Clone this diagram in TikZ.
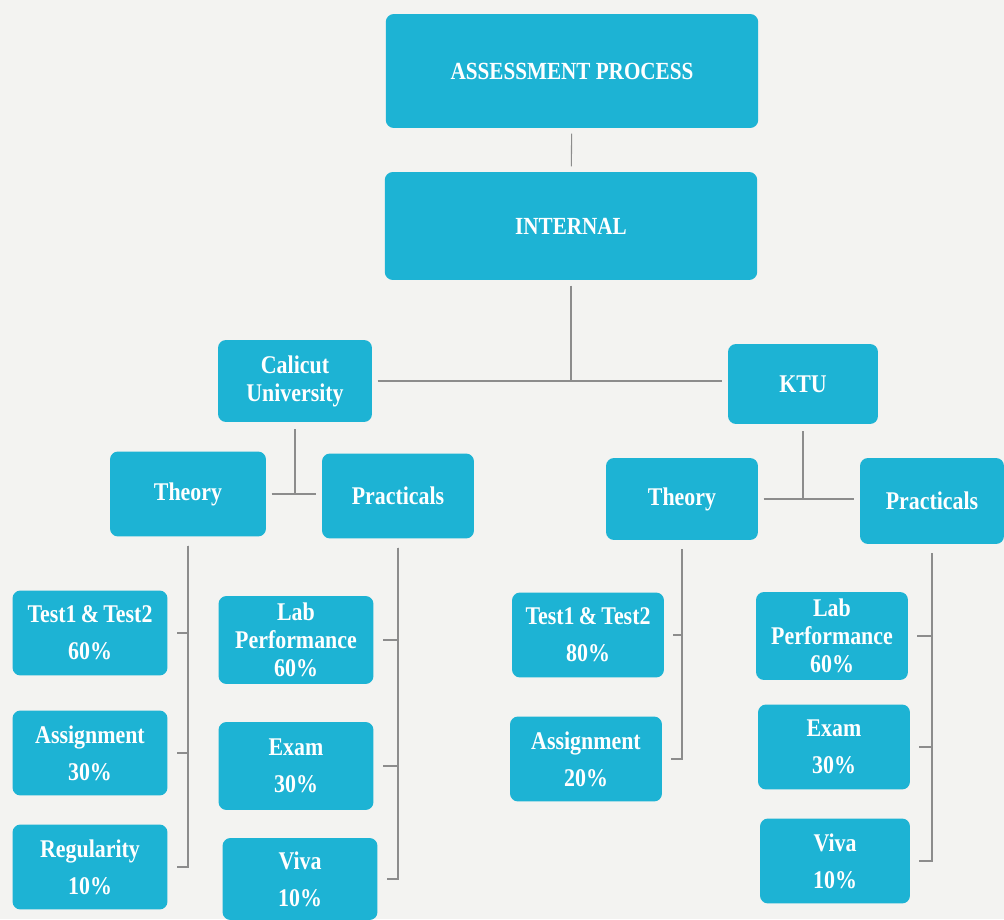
\documentclass[tikz,border=0pt]{standalone}
\usepackage{fontspec}
\setmainfont{Liberation Serif}
\newfontfamily\boxfont{Liberation Serif}[FakeStretch=0.86]
\usepackage{xcolor}
\usepackage{tikz}

\definecolor{boxcyan}{HTML}{1DB3D4}
\definecolor{paper}{HTML}{F3F3F1}
\definecolor{wire}{HTML}{8C8C8C}

\begin{document}
\begin{tikzpicture}[x=0.02cm, y=-0.02cm,
	box/.style={fill=boxcyan, rounded corners=0.16cm, text=white, align=center,
		font=\boxfont\bfseries\fontsize{14.5}{21}\selectfont, inner sep=1pt,
		minimum width=3.1cm, minimum height=1.7cm},
	tight/.style={font=\boxfont\bfseries\fontsize{14.5}{16}\selectfont},
	bigbox/.style={box, font=\boxfont\bfseries\fontsize{14}{15}\selectfont,
		minimum width=7.45cm},
	link/.style={draw=wire, line width=0.6pt},
	stub/.style={link, shorten <=5pt, shorten >=5pt}]

\fill[paper] (0,0) rectangle (1004,919);

\node[bigbox, minimum height=2.28cm] (ap) at (572,71) {ASSESSMENT PROCESS};
\node[bigbox, minimum height=2.16cm] (int) at (571,226) {INTERNAL};

\node[box, tight, minimum width=3.08cm, minimum height=1.64cm] (cal) at (295,381) {Calicut\\University};
\node[box, minimum width=3.0cm, minimum height=1.6cm] (ktu) at (803,384) {KTU};

\node[box, minimum width=3.12cm] (thL) at (188,494) {Theory};
\node[box, minimum width=3.04cm] (prL) at (398,496) {Practicals};
\node[box, minimum width=3.04cm, minimum height=1.64cm] (thR) at (682,499) {Theory};
\node[box, minimum width=2.88cm, minimum height=1.72cm] (prR) at (932,501) {Practicals};

\node[box] (tL1) at (90,633) {Test1\,\&\,Test2\\60\%};
\node[box] (tL2) at (90,753) {Assignment\\30\%};
\node[box] (tL3) at (90,867) {Regularity\\10\%};

\node[box, tight, minimum height=1.76cm] (pL1) at (296,640) {Lab\\Performance\\60\%};
\node[box, minimum height=1.76cm] (pL2) at (296,766) {Exam\\30\%};
\node[box, minimum height=1.64cm] (pL3) at (300,879) {Viva\\10\%};

\node[box, minimum width=3.04cm] (tR1) at (588,635) {Test1\,\&\,Test2\\80\%};
\node[box, minimum width=3.04cm] (tR2) at (586,759) {Assignment\\20\%};

\node[box, tight, minimum width=3.04cm, minimum height=1.76cm] (pR1) at (832,636) {Lab\\Performance\\60\%};
\node[box, minimum width=3.04cm] (pR2) at (834,747) {Exam\\30\%};
\node[box, minimum width=3.0cm] (pR3) at (835,861) {Viva\\10\%};

\draw[link, shorten <=3pt, shorten >=3pt] (ap) -- (int);

\draw[link, shorten <=3pt] (int.south) -- (int.south |- cal.east);
\draw[link, shorten <=3pt, shorten >=3pt] (cal.east) -- (cal.east -| ktu.west);

\draw[link, shorten <=4pt] (cal.south) -- (cal.south |- thL.east);
\draw[link, shorten <=3pt, shorten >=3pt] (thL.east) -- (thL.east -| prL.west);

\draw[link, shorten <=4pt] (ktu.south) -- (ktu.south |- thR.east);
\draw[link, shorten <=3pt, shorten >=3pt] (thR.east) -- (thR.east -| prR.west);

\foreach \kid in {tL1,tL2,tL3}
	\draw[stub] (thL.south) |- (\kid.east);

\foreach \kid in {pL1,pL2,pL3}
	\draw[stub] (prL.south) |- (\kid.east);

\foreach \kid in {tR1,tR2}
	\draw[stub] (thR.south) |- (\kid.east);

\foreach \kid in {pR1,pR2,pR3}
	\draw[stub] (prR.south) |- (\kid.east);

\end{tikzpicture}
\end{document}
